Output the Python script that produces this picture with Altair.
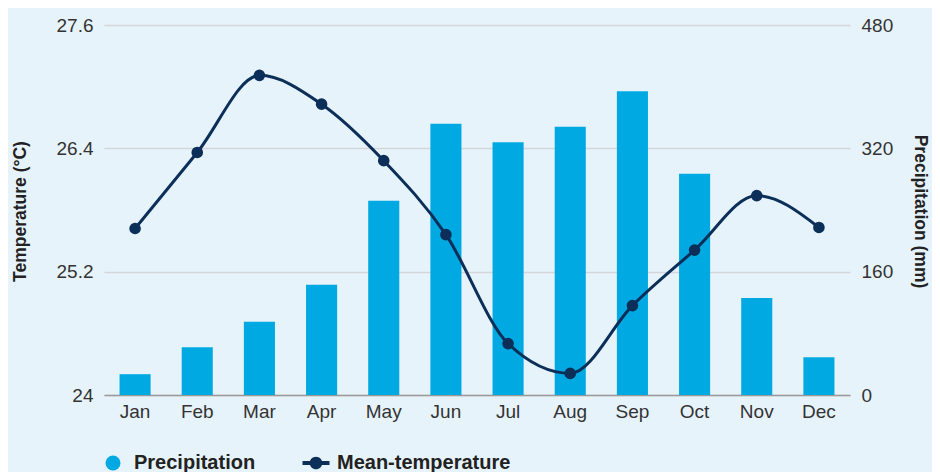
import pandas as pd
import altair as alt

# Monthly climate values
months = ["Jan", "Feb", "Mar", "Apr", "May", "Jun",
          "Jul", "Aug", "Sep", "Oct", "Nov", "Dec"]
precipitation = [27, 62, 95, 143, 252, 352, 328, 348, 394, 287, 126, 49]
mean_temperature = [25.62, 26.36, 27.11, 26.83, 26.28, 25.56,
                     24.50, 24.21, 24.87, 25.41, 25.94, 25.63]
temp_ticks = [24, 25.2, 26.4, 27.6]
precip_ticks = [0, 160, 320, 480]
series = ["Precipitation", "Mean-temperature"]

BLUE = "#00a9e2"
NAVY = "#0b2f58"
FONT = "Liberation Sans"

df = pd.DataFrame({
    "Month": months,
    "Precipitation": precipitation,
    "Temperature": mean_temperature,
})
legend_df = pd.DataFrame({"Series": series})

x = alt.X("Month:N", sort=months, title=None,
          scale=alt.Scale(paddingInner=0.5, paddingOuter=0.25),
          axis=alt.Axis(labelAngle=0, labelFontSize=19, labelColor="#333",
                        labelPadding=7, ticks=False, tickSize=0,
                        domainColor="#9a9a9a", domainWidth=1.5))

bars = alt.Chart(df).mark_bar(color=BLUE).encode(
    x=x,
    y=alt.Y("Precipitation:Q", title="Precipitation (mm)",
            scale=alt.Scale(domain=[0, 480], nice=False),
            axis=alt.Axis(orient="right", values=precip_ticks, grid=False,
                          domain=False, ticks=False, tickSize=0,
                          labelFontSize=19, labelColor="#333", labelPadding=11,
                          titleFontSize=17.5, titleFontWeight="bold",
                          titleColor="#222", titleAngle=90,
                          titleX=69, titleY=186, titleBaseline="middle"))
)

line = alt.Chart(df).mark_line(
    color=NAVY, strokeWidth=3, interpolate="monotone",
    point=alt.OverlayMarkDef(color=NAVY, size=135, filled=True, opacity=1)
).encode(
    x=x,
    y=alt.Y("Temperature:Q", title="Temperature (°C)",
            scale=alt.Scale(domain=[24, 27.6], nice=False, zero=False),
            axis=alt.Axis(orient="left", values=temp_ticks,
                          labelExpr="replace(format(datum.value, '.1f'), '.0', '')",
                          grid=True, gridColor="#d3d5d8", gridWidth=1.5,
                          domain=False, ticks=False, tickSize=0,
                          labelFontSize=19, labelColor="#333", labelPadding=11,
                          titleFontSize=17.5, titleFontWeight="bold",
                          titleColor="#222", titleAngle=-90,
                          titleX=-84, titleY=186, titleBaseline="middle"))
)

line_symbol = ("M-1.8,-0.27H1.8V0.27H-1.8Z "
               "M0.84,0A0.84,0.84,0,1,1,-0.84,0A0.84,0.84,0,1,1,0.84,0Z")

legend = alt.Legend(orient="none", legendX=-1, legendY=428,
                    direction="horizontal", title=None,
                    labelFont=FONT, labelFontSize=20, labelFontWeight="bold",
                    labelColor="#222", labelLimit=400, symbolSize=225,
                    labelOffset=11, columnPadding=46, symbolOpacity=1,
                    symbolStrokeWidth=0)

legend_layer = alt.Chart(legend_df).mark_point(filled=True, opacity=0).encode(
    color=alt.Color("Series:N", sort=series,
                    scale=alt.Scale(domain=series, range=[BLUE, NAVY]),
                    legend=legend),
    shape=alt.Shape("Series:N", sort=series,
                    scale=alt.Scale(domain=series, range=["circle", line_symbol]),
                    legend=legend),
)

chart = alt.layer(bars, line, legend_layer).resolve_scale(
    y="independent"
).properties(
    width=746,
    height=370,
    autosize="none",
    padding={"left": 96, "top": 17, "right": 82, "bottom": 77},
    background="#e7f3fb",
).configure(
    font=FONT
).configure_view(
    strokeWidth=0
)

chart.save("out.html", embed_options={"renderer": "svg", "actions": False})
